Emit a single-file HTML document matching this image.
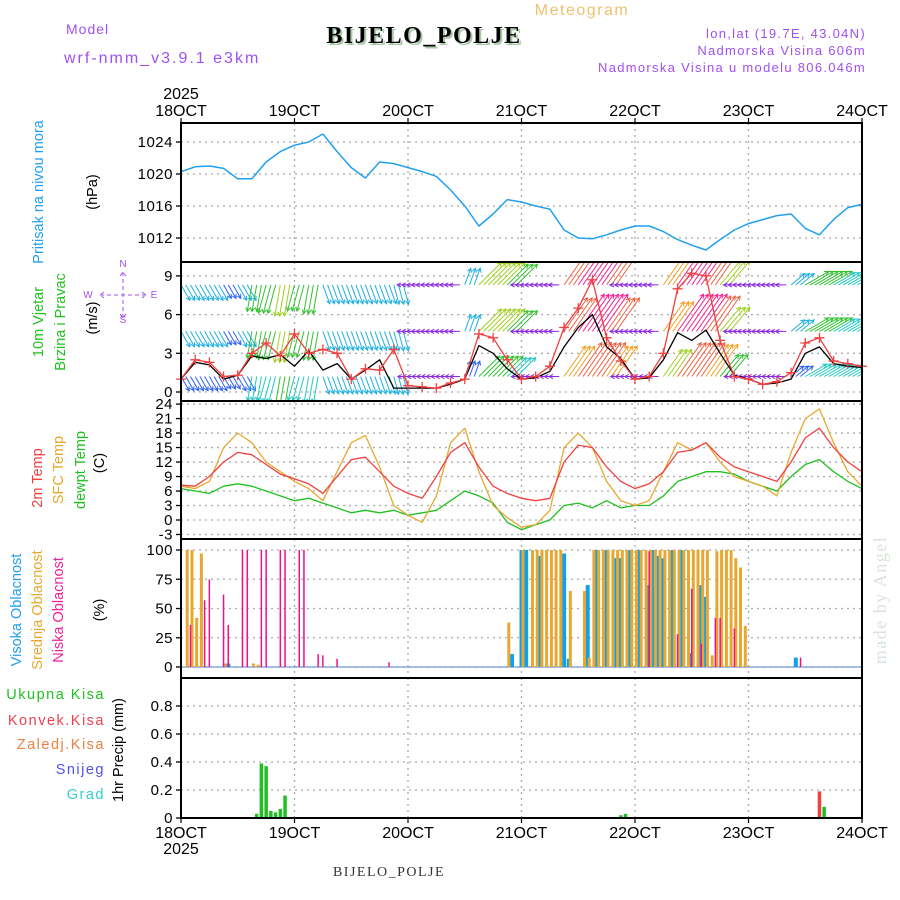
<!DOCTYPE html>
<html><head><meta charset="utf-8">
<style>
html,body{margin:0;padding:0;background:#fff;}
svg{display:block;font-family:"Liberation Sans",sans-serif;}
</style></head>
<body>
<svg id="chart" width="900" height="900" viewBox="0 0 900 900" xmlns="http://www.w3.org/2000/svg">
<g>
<text x="582" y="15" text-anchor="middle" font-size="16" fill="#f0c070" letter-spacing="1.5">Meteogram</text>
<text x="66" y="34" font-size="14" fill="#a050f0" letter-spacing="1">Model</text>
<text x="64" y="63" font-size="16" fill="#a050f0" letter-spacing="2">wrf-nmm_v3.9.1 e3km</text>
<text x="426" y="45" text-anchor="middle" font-size="24" font-weight="bold" fill="#a8c8a8" font-family="Liberation Serif, serif" letter-spacing="1.5">BIJELO_POLJE</text>
<text x="424" y="43" text-anchor="middle" font-size="24" font-weight="bold" fill="#000" font-family="Liberation Serif, serif" letter-spacing="1.5">BIJELO_POLJE</text>
<text x="866" y="38" text-anchor="end" font-size="13" fill="#a050f0" letter-spacing="1.3">lon,lat (19.7E, 43.04N)</text>
<text x="866" y="55" text-anchor="end" font-size="13" fill="#a050f0" letter-spacing="1.3">Nadmorska Visina 606m</text>
<text x="866" y="72" text-anchor="end" font-size="13" fill="#a050f0" letter-spacing="1.3">Nadmorska Visina u modelu 806.046m</text>
</g>
<g font-size="14.5">
<text transform="translate(43,192) rotate(-90)" text-anchor="middle" fill="#20a0f0">Pritisak na nivou mora</text>
<text transform="translate(97,192) rotate(-90)" text-anchor="middle" fill="#000">(hPa)</text>
<text transform="translate(43,322) rotate(-90)" text-anchor="middle" fill="#20c020">10m Vjetar</text>
<text transform="translate(65,322) rotate(-90)" text-anchor="middle" fill="#20c020">Brzina i Pravac</text>
<text transform="translate(97,318) rotate(-90)" text-anchor="middle" fill="#000">(m/s)</text>
<g fill="#a050f0" font-size="10">
<text x="123" y="267" text-anchor="middle">N</text>
<text x="88" y="298" text-anchor="middle">W</text>
<text x="154" y="298" text-anchor="middle">E</text>
<text x="123" y="323" text-anchor="middle">S</text>
<path d="M100,295 H146 M123,272 V318 M104,292 L100,295 L104,298 M142,292 L146,295 L142,298 M120,276 L123,272 L126,276 M120,314 L123,318 L126,314" stroke="#a050f0" stroke-width="1" fill="none" stroke-dasharray="4,3"/>
</g>
<text transform="translate(42,478) rotate(-90)" text-anchor="middle" fill="#f04040">2m Temp</text>
<text transform="translate(63,470) rotate(-90)" text-anchor="middle" fill="#e8a830">SFC Temp</text>
<text transform="translate(85,470) rotate(-90)" text-anchor="middle" fill="#20c020">dewpt Temp</text>
<text transform="translate(104,463) rotate(-90)" text-anchor="middle" fill="#000">(C)</text>
<text transform="translate(21,610) rotate(-90)" text-anchor="middle" fill="#20a0f0">Visoka Oblacnost</text>
<text transform="translate(42,610) rotate(-90)" text-anchor="middle" fill="#e8a830">Srednja Oblacnost</text>
<text transform="translate(63,610) rotate(-90)" text-anchor="middle" fill="#f0209a">Niska Oblacnost</text>
<text transform="translate(104,610) rotate(-90)" text-anchor="middle" fill="#000">(%)</text>
<text x="105" y="699" text-anchor="end" fill="#20c020" letter-spacing="1.5">Ukupna Kisa</text>
<text x="105" y="725" text-anchor="end" fill="#f04050" letter-spacing="1.5">Konvek.Kisa</text>
<text x="105" y="749" text-anchor="end" fill="#f08040" letter-spacing="1.5">Zaledj.Kisa</text>
<text x="105" y="774" text-anchor="end" fill="#5050f0" letter-spacing="1.5">Snijeg</text>
<text x="105" y="799" text-anchor="end" fill="#30d0d0" letter-spacing="1.5">Grad</text>
<text transform="translate(123,750) rotate(-90)" text-anchor="middle" fill="#000">1hr Precip (mm)</text>
<text transform="translate(886,600) rotate(-90)" text-anchor="middle" fill="#d8e4d8" font-size="18" font-family="Liberation Serif, serif" letter-spacing="1.5">made by Angel</text>
</g>
<text x="389" y="876" text-anchor="middle" font-size="14" fill="#333" font-family="Liberation Serif, serif" letter-spacing="1.5">BIJELO_POLJE</text>
</svg>
<script>
// ---- data (3-hourly, hours 0..144 from 18 OCT 00) ----
const days = ['18OCT','19OCT','20OCT','21OCT','22OCT','23OCT','24OCT'];
const pressure = [1020.3,1020.9,1021.0,1020.7,1019.4,1019.4,1021.5,1022.8,1023.6,1024,1025,1022.8,1020.8,1019.5,1021.5,1021.3,1020.8,1020.3,1019.7,1018,1016,1013.5,1015,1016.8,1016.5,1016,1015.6,1013,1012,1011.9,1012.4,1013,1013.5,1013.5,1012.8,1011.8,1011.1,1010.5,1011.8,1013,1013.8,1014.3,1014.8,1015,1013.2,1012.4,1014.3,1015.8,1016.2];
const pressureTicks = [1012,1016,1020,1024];
const windSpeed = [1,2.5,2.3,1.2,1.3,3,3.8,2.8,4.5,3,3.3,3.0,1.0,1.8,1.7,3.3,0.5,0.4,0.3,0.7,1.0,4.5,4.2,2.5,1.0,1.2,2.0,5.0,6.5,8.7,4.2,2.4,1.0,1.2,3.0,8.0,9.2,9.0,4.0,1.2,1.0,0.6,0.8,1.5,3.8,4.2,2.4,2.2,2.0];
const windSpeed2 = [1,2.3,2.1,1.0,1.3,2.8,2.6,2.9,2.0,3.2,1.7,2.2,1.0,1.7,2.5,0.3,0.3,0.3,0.3,0.6,1.0,3.6,3.0,1.8,1.0,1.1,1.6,3.5,5.0,6.0,3.5,2.6,1.0,1.1,2.5,4.6,4.0,4.8,3.0,1.3,1.0,0.6,0.7,1.0,3.0,3.5,2.2,2.0,1.9];
const windDir = [150,150,150,150,150,190,195,190,195,190,160,160,160,160,160,165,270,270,270,270,20,45,45,45,270,270,270,35,35,35,35,270,270,270,35,35,35,35,40,270,270,270,270,50,60,60,60,60,60];
const windArrowSpeed = [3,3,3,2.5,3,5,5.5,6,5,5.5,3.5,3.5,3.5,3.5,3.5,3.5,1.5,1.5,1.5,1.5,3,6,6,5.5,1.5,1.5,1.5,8,9,9,8,1.5,1.5,1.5,7,9,9,8.5,6,1.5,1.5,1.5,1.5,3,5,5,4.5,4.5,4.5];
const windTicks = [0,3,6,9];
const windRows = [8.3,4.7,1.2];
const temp2m = [7.2,7,9,12,14,13.5,11.5,9.5,8.5,7.5,5.5,9,12.5,13,10,7,5.5,4.5,9,14,16,11,7,5.5,4.5,4,4.5,12,15.5,15,11,8,6.5,7.5,10,14,14.5,16,13,11,10,9,8,12,17,19,15,12,10];
const tempSfc = [7,6.5,8,15,18,16,12,10,8,6.5,4,10,16,17.5,11,3,1,-0.5,5,16,19,10,3,0.5,-1.5,-1,2,15,18,15,8,4,3,4,10,16,14.5,16,12,9,8,7,5,14,21,23,16,10,7];
const tempDew = [6.5,6,5.5,7,7.5,7,6,5,4,4.5,3.5,2.5,1.5,2,1.5,2,1,1.5,2,4,6,5,3.5,-0.5,-2,-1,0,3,3.5,2.5,4,2.5,3,3,5,8,9,10,10,9.5,8,7,6,9,11.5,12.5,10,8,6.5];
const tempTicks = [-3,0,3,6,9,12,15,18,21,24];
// cloud cover, hourly sparse (hour, percent)
const highHours = [10,70,72,73,76,81,82,86,88,90,92,93,95,97,99,100,101,102,104,106,108,110,111,130];
const highVals  = [3,11,100,100,95,97,7,70,100,100,93,93,100,100,70,100,95,93,100,100,12,70,60,8];
const midHours = [1,2,3,4,9,15,16,69,72,74,75,76,77,78,79,80,82,85,86,87,88,89,90,91,92,93,94,95,96,97,98,99,100,101,102,103,104,105,106,107,108,109,110,111,112,113,114,115,116,117,118,119];
const midVals  = [100,100,42,97,3,3,2,38,100,100,100,100,100,100,100,100,65,65,8,100,100,100,100,100,100,100,100,100,100,100,100,100,100,100,100,100,100,100,100,100,100,100,100,100,10,99,100,100,100,93,85,35];
const lowHours = [2,5,6,9,10,13,14,17,18,21,22,25,26,29,30,33,44,99,105,108,110,113,114,117,131];
const lowVals  = [36,57,75,62,36,100,100,100,100,100,100,100,100,11,10,7,4,99,28,67,20,42,42,33,8];
const cloudTicks = [0,25,50,75,100];
// precipitation hourly sparse
const rainHours = [16,17,18,19,20,21,22,93,94,136];
const rainVals  = [0.03,0.39,0.37,0.05,0.04,0.065,0.16,0.02,0.03,0.08];
const convHours = [135];
const convVals  = [0.19];
const precipTicks = [0,0.2,0.4,0.6,0.8];

// ---- axes ----
const X0 = 181, X1 = 862, HOURS = 144;
const xh = h => X0 + (X1 - X0) * h / HOURS;
const xk = k => xh(k * 3);
const yP = v => 142 + (1024 - v) * 8;
const yW = v => 392 - v * 12.9;
const yT = v => 520 - v * 4.83;
const yC = v => 667 - v * 1.17;
const yR = v => 818 - v * 140;
const panels = [
  {name:'pressure', top:123, bot:262, ticks:pressureTicks, y:yP, fmt:v=>String(v)},
  {name:'wind', top:262, bot:401, ticks:windTicks, y:yW, fmt:v=>String(v)},
  {name:'temperature', top:401, bot:539, ticks:tempTicks, y:yT, fmt:v=>String(v)},
  {name:'cloud', top:539, bot:678, ticks:cloudTicks, y:yC, fmt:v=>String(v)},
  {name:'precip', top:678, bot:818, ticks:precipTicks, y:yR, fmt:v=>v===0?'0':v.toFixed(1)}
];
const NS = 'http://www.w3.org/2000/svg';
const svg = document.getElementById('chart');
function mk(tag, attrs, parent) {
  const e = document.createElementNS(NS, tag);
  for (const k in attrs) e.setAttribute(k, attrs[k]);
  (parent || svg).appendChild(e);
  return e;
}

panels.forEach(p => {
  const g = mk('g', {});
  
  
  const cp = mk('clipPath', {id: 'clip-' + p.name}, g);
  mk('rect', {x: X0, y: p.top, width: X1 - X0, height: p.bot - p.top}, cp);
  for (let d = 1; d < days.length - 1; d++) {
    const l = mk('line', {x1: xh(d*24), x2: xh(d*24), y1: p.top, y2: p.bot, stroke: '#aaa', 'stroke-dasharray': '2,4', 'stroke-width': 1.3}, g);
    
    
  }
  p.ticks.forEach(t => {
    const y = p.y(t);
    const l = mk('line', {x1: X0, x2: X1, y1: y, y2: y, stroke: '#aaa', 'stroke-dasharray': '2,4', 'stroke-width': 1.3}, g);
    
    
    mk('line', {x1: X0 - 5, x2: X0, y1: y, y2: y, stroke: '#000', 'stroke-width': 1.3}, g);
    const tx = mk('text', {x: X0 - 8, y: y + 5, 'text-anchor': 'end', 'font-size': 15, fill: '#000', 'letter-spacing': 0.5}, g);
    tx.textContent = p.fmt(t);
    
    
  });
  p.g = g;
});

function poly(vals, yf, color, width, parent, name) {
  const pts = vals.map((v, k) => xk(k).toFixed(1) + ',' + yf(v).toFixed(1)).join(' ');
  const pl = mk('polyline', {points: pts, fill: 'none', stroke: color, 'stroke-width': width, 'stroke-linejoin': 'round'}, parent);
  
  
  return pl;
}
poly(pressure, yP, '#20a0f0', 1.5, panels[0].g, 'pressure-line');

function windColor(s) {
  if (s < 2) return '#8a2be2';
  if (s < 3) return '#3060f0';
  if (s < 4) return '#20b0e0';
  if (s < 5) return '#20c8c0';
  if (s < 6) return '#30c030';
  if (s < 7) return '#a0d020';
  if (s < 8) return '#f0a020';
  if (s < 8.7) return '#f06040';
  return '#f02090';
}
const wg = mk('g', {'clip-path': 'url(#clip-wind)'}, panels[1].g);


windDir.forEach((d, k) => {
  for (let sub = 0; sub < 3; sub++) {
    const h = k * 3 + sub;
    if (h > HOURS) break;
    windRows.forEach((row, ri) => {
      const s = windArrowSpeed[k] * (ri === 2 ? 0.9 : 1);
      const L = 4 + s * 4.6;
      const r = d * Math.PI / 180;
      const x0 = xh(h), y0 = yW(row);
      const x1 = x0 + L * Math.sin(r), y1 = y0 - L * Math.cos(r);
      const a1 = r + Math.PI - 0.5, a2 = r + Math.PI + 0.5;
      const c = windColor(s);
      const p = mk('path', {d: `M${x0.toFixed(1)},${y0.toFixed(1)} L${x1.toFixed(1)},${y1.toFixed(1)} M${(x1+4.5*Math.sin(a1)).toFixed(1)},${(y1-4.5*Math.cos(a1)).toFixed(1)} L${x1.toFixed(1)},${y1.toFixed(1)} L${(x1+4.5*Math.sin(a2)).toFixed(1)},${(y1-4.5*Math.cos(a2)).toFixed(1)}`, stroke: c, 'stroke-width': 1, fill: 'none'}, wg);
      
      
    });
  }
});
poly(windSpeed2, yW, '#000', 1.3, panels[1].g, 'wind-speed-line');
poly(windSpeed, yW, '#f04040', 1.3, panels[1].g, 'wind-gust-line');
windSpeed.forEach((v, k) => {
  const x = xk(k), y = yW(v);
  const m = mk('path', {d: `M${x-5},${y} H${x+5} M${x},${y-5} V${y+5}`, stroke: '#f04040', 'stroke-width': 1.3}, panels[1].g);
  
  
});

poly(tempDew, yT, '#20c020', 1.3, panels[2].g, 'dewpoint-line');
poly(tempSfc, yT, '#e8a830', 1.3, panels[2].g, 'sfc-temp-line');
poly(temp2m, yT, '#f04040', 1.3, panels[2].g, 'temp2m-line');

function bars(hours, vals, yf, color, w, dx, parent, name) {
  hours.forEach((h, i) => {
    const y = yf(vals[i]), y0 = yf(0);
    const r = mk('rect', {x: (xh(h) + dx - w/2).toFixed(1), y: y.toFixed(1), width: w, height: Math.max(0.5, y0 - y).toFixed(1), fill: color}, parent);
    
    
  });
}
mk('line', {x1: X0, x2: X1, y1: yC(0), y2: yC(0), stroke: '#5080d0', 'stroke-width': 1}, panels[3].g);
bars(highHours, highVals, yC, '#10a0f0', 4, 0, panels[3].g, 'high-cloud-bar');
bars(midHours, midVals, yC, '#e8a830', 3, 1.5, panels[3].g, 'mid-cloud-bar');
bars(lowHours, lowVals, yC, '#f0108a', 1.5, 0, panels[3].g, 'low-cloud-bar');

bars(rainHours, rainVals, yR, '#20c020', 3.5, 0, panels[4].g, 'rain-bar');
bars(convHours, convVals, yR, '#f04040', 3.5, 0, panels[4].g, 'conv-rain-bar');

panels.forEach(p => {
  const r = mk('rect', {x: X0, y: p.top, width: X1 - X0, height: p.bot - p.top, fill: 'none', stroke: '#000', 'stroke-width': 2}, p.g);
  
  
});

const xg = mk('g', {'font-size': 16, fill: '#000'});


days.forEach((d, i) => {
  const x = xh(i * 24);
  mk('line', {x1: x, x2: x, y1: 118, y2: 124, stroke: '#000', 'stroke-width': 1.2}, xg);
  mk('line', {x1: x, x2: x, y1: 818, y2: 823, stroke: '#000', 'stroke-width': 1.2}, xg);
  const t = mk('text', {x: x, y: 116, 'text-anchor': 'middle'}, xg);
  t.textContent = d;
  
  
  const b = mk('text', {x: x, y: 838, 'text-anchor': 'middle'}, xg);
  b.textContent = d;
  
  
});
const y1 = mk('text', {x: X0, y: 99, 'text-anchor': 'middle'}, xg);
y1.textContent = '2025';


const y2 = mk('text', {x: X0, y: 854, 'text-anchor': 'middle'}, xg);
y2.textContent = '2025';


</script>
</body></html>
